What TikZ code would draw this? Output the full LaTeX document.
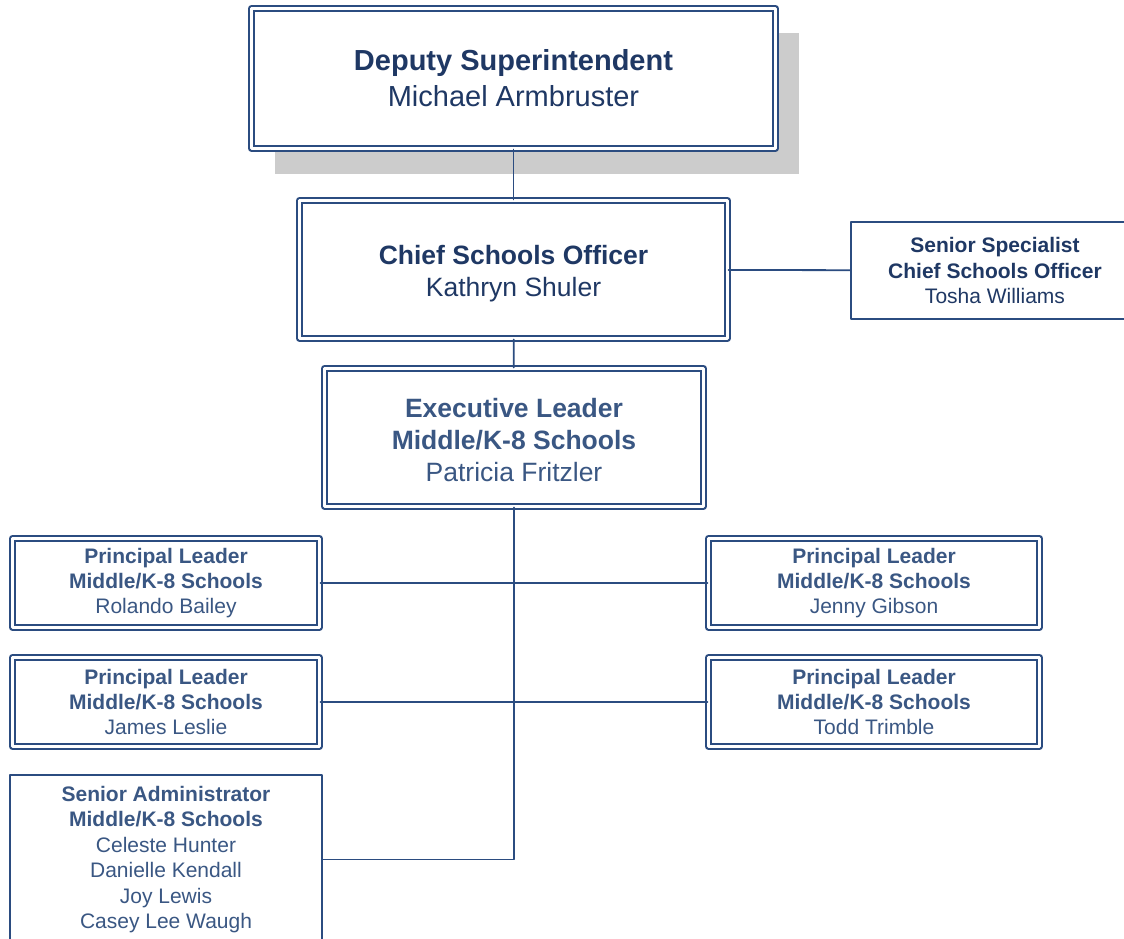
\documentclass[tikz,border=0pt]{standalone}
\usepackage{fontspec}
\setmainfont{Liberation Sans}
\usetikzlibrary{shadows}

\definecolor{navy}{HTML}{1F3864}
\definecolor{slateblue}{HTML}{3A5783}
\definecolor{boxblue}{HTML}{2B4C80}
\definecolor{shadowgray}{HTML}{CCCCCC}

\begin{document}
\begin{tikzpicture}[x=1pt,y=-1pt,line cap=round,line join=round,
    dbox/.style={draw=boxblue,line width=2.1pt,double=white,double distance=2.6pt,
      fill=white,align=center,inner sep=0pt},
    sbox/.style={draw=boxblue,line width=2.2pt,fill=white,align=center,inner sep=0pt},
    link/.style={draw=boxblue,line width=1.8pt},
    bigtext/.style={font=\fontsize{26.5}{32}\selectfont},
    smalltext/.style={font=\fontsize{21}{25.4}\selectfont}]
      \useasboundingbox (0,0) rectangle (1124,939);

      % Top of the chart
      \node[dbox,minimum width=524pt,minimum height=140pt,text=navy,
        font=\fontsize{29}{36}\selectfont,
        drop shadow={shadow xshift=23pt,shadow yshift=-25pt,fill=shadowgray,opacity=1}]
        (deputy) at (513.5,78.5) {\textbf{Deputy Superintendent}\\Michael Armbruster};
      \node[dbox,bigtext,minimum width=428pt,minimum height=138pt,text=navy]
        (chief) at (513.5,269.5) {\rule{0pt}{27pt}\textbf{Chief Schools Officer}\\Kathryn Shuler};
      \node[sbox,smalltext,minimum width=288pt,minimum height=97pt,text=navy]
        (specialist) at (995,270.5) {\textbf{Senior Specialist}\\\textbf{Chief Schools Officer}\\Tosha Williams};
      \node[dbox,bigtext,minimum width=379pt,minimum height=138pt,text=slateblue]
        (exec) at (514,437.5) {\rule{0pt}{24pt}\textbf{Executive Leader}\\\textbf{Middle/K-8 Schools}\\Patricia Fritzler};

      % Principal leaders
      \node[dbox,smalltext,minimum width=307pt,minimum height=89pt,text=slateblue]
        (bailey) at (166,583) {\textbf{Principal Leader}\\\textbf{Middle/K-8 Schools}\\Rolando Bailey};
      \node[dbox,smalltext,minimum width=307pt,minimum height=89pt,text=slateblue]
        (leslie) at (166,702) {\textbf{Principal Leader}\\\textbf{Middle/K-8 Schools}\\James Leslie};
      \node[dbox,smalltext,minimum width=331pt,minimum height=89pt,text=slateblue]
        (gibson) at (874,583) {\textbf{Principal Leader}\\\textbf{Middle/K-8 Schools}\\Jenny Gibson};
      \node[dbox,smalltext,minimum width=331pt,minimum height=89pt,text=slateblue]
        (trimble) at (874,702) {\textbf{Principal Leader}\\\textbf{Middle/K-8 Schools}\\Todd Trimble};

      % Senior administrators
      \node[sbox,smalltext,minimum width=312pt,minimum height=169pt,text=slateblue]
        (admin) at (166,859.5) {\textbf{Senior Administrator}\\\textbf{Middle/K-8 Schools}\\Celeste Hunter\\Danielle Kendall\\Joy Lewis\\Casey Lee Waugh};

      % Connectors
      \draw[link] (deputy) -- (chief);
      \draw[link] (chief) -- (specialist);
      \draw[link] (chief) -- (exec);
      \draw[link] (exec.south) -- (exec.south |- admin.east) -- (admin.east);
      \draw[link] (bailey) -- (gibson);
      \draw[link] (leslie) -- (trimble);
    \end{tikzpicture}
\end{document}
